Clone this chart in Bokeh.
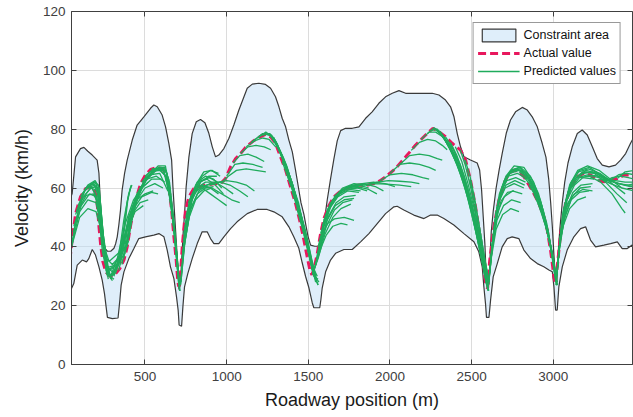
from bokeh.plotting import figure
from bokeh.models import Range1d, LinearAxis, FixedTicker, Legend, LegendItem, CustomJSTickFormatter
from bokeh.embed import file_html
from bokeh.resources import INLINE

# Constraint area: upper and lower velocity envelopes along the road (m, km/h)
upper_pos = [40, 54, 75, 105, 126, 150, 177, 207, 218, 224, 232, 244, 255, 270, 290, 310, 320, 330,
             340, 350, 360, 375, 391, 422, 452, 493, 534, 554, 575, 605, 626, 646, 663, 671, 681, 691,
             701, 708, 716, 724, 734, 742, 752, 769, 789, 814, 840, 867, 891, 912, 932, 952, 983, 1014,
             1044, 1075, 1106, 1126, 1157, 1197, 1238, 1269, 1299, 1320, 1340, 1361, 1381, 1402, 1422,
             1440, 1455, 1473, 1487, 1499, 1514, 1540, 1565, 1585, 1600, 1616, 1636, 1657, 1677, 1698,
             1728, 1769, 1810, 1851, 1891, 1932, 1973, 2014, 2055, 2096, 2136, 2198, 2259, 2300, 2340,
             2371, 2392, 2412, 2432, 2453, 2493, 2534, 2549, 2561, 2571, 2581, 2587, 2596, 2606, 2612,
             2620, 2632, 2650, 2668, 2687, 2712, 2738, 2769, 2810, 2841, 2871, 2902, 2932, 2955, 2972,
             2984, 2994, 3003, 3010, 3016, 3023, 3030, 3040, 3055, 3070, 3090, 3116, 3147, 3177, 3208,
             3239, 3269, 3300, 3341, 3381, 3412, 3443, 3473, 3495]
upper_vel = [56, 58.1, 70.6, 73.4, 73.8, 72.5, 71.2, 69.5, 65, 58.1, 50.2, 43.4, 39.5, 38.5, 38.5, 39.5,
             41, 43.4, 47.5, 52.5, 59.3, 65, 69.5, 76.3, 81.4, 84.2, 87.1, 88.2, 87.6, 84.8, 80.8, 75.2,
             69.5, 60.4, 51.3, 42.3, 33.2, 25.5, 27, 35, 45, 51, 60.4, 70.6, 78.5, 82.5, 83.3, 82.2, 78.6,
             74, 70.6, 71.2, 73.4, 76.9, 81.4, 86.5, 91, 93.9, 95.3, 95.6, 95.2, 93.9, 91, 87.6, 83.7,
             80.8, 76.3, 72.3, 66, 60, 55, 51, 46.8, 43.4, 40.6, 40.2, 40.2, 44.5, 49.5, 56, 63, 70, 76,
             79.5, 80.3, 80.3, 80.8, 83.7, 85.9, 88.8, 91, 92.2, 93.1, 92.2, 92.2, 92.2, 92.2, 91.6,
             89.9, 87.6, 84.2, 78.5, 74, 70.6, 69.5, 68.5, 66.1, 59.3, 50.2, 41.1, 33.2, 27, 27.5, 35.5,
             45, 52, 60, 66, 71.7, 78.6, 83.1, 85.9, 87.4, 86.5, 84.2, 80.8, 75.2, 70.5, 63, 55, 47, 38,
             32, 29.5, 31, 38, 46, 55, 62, 68.5, 74, 78.5, 79.7, 78, 74, 70, 67.8, 67.2, 67.8, 69.5,
             71.7, 75.2, 77.5]

lower_pos = [40, 50, 64, 85, 116, 142, 156, 177, 197, 218, 238, 252, 262, 270, 300, 335, 346, 354, 371,
             401, 432, 462, 503, 554, 585, 616, 636, 656, 677, 693, 703, 709, 724, 732, 742, 762, 789,
             820, 850, 881, 901, 922, 952, 983, 1024, 1064, 1126, 1187, 1248, 1289, 1340, 1381, 1411,
             1442, 1463, 1483, 1504, 1524, 1534, 1570, 1577, 1585, 1606, 1636, 1667, 1718, 1769, 1820,
             1871, 1922, 1973, 2024, 2044, 2085, 2146, 2208, 2249, 2289, 2330, 2391, 2453, 2514, 2544,
             2565, 2575, 2585, 2591, 2606, 2616, 2632, 2657, 2687, 2718, 2748, 2789, 2820, 2861, 2902,
             2942, 2973, 2994, 3004, 3014, 3024, 3034, 3055, 3085, 3126, 3167, 3198, 3228, 3259, 3310,
             3351, 3392, 3422, 3453, 3483, 3495]
lower_vel = [25.5, 25.8, 27.5, 33.8, 35.5, 34.9, 36, 39.1, 37.2, 33.2, 28.7, 24.1, 19.6, 16, 15.6, 15.8,
             21.9, 27, 31.5, 36, 39.4, 42.8, 43.4, 44, 44.5, 43.4, 38.9, 33.2, 29.2, 23, 18.5, 13.4, 13,
             19.6, 26.4, 30.9, 36, 41.1, 45.1, 45.1, 42.8, 41.1, 41.1, 43.4, 46.2, 48.5, 51.3, 52.7, 52.7,
             51.9, 50.2, 46.8, 43.4, 39.5, 34.5, 30, 26, 21, 19.3, 19.3, 22, 26, 31.5, 35.5, 37.8, 39.1,
             39.1, 41.7, 44.5, 47.9, 51.3, 53.6, 53.8, 52.5, 50.8, 49.6, 50.8, 50.8, 49.6, 47.4, 44.5,
             41.7, 38.3, 33.2, 26.4, 20.7, 16, 16, 21.9, 29.8, 34.3, 40, 42.8, 43.4, 42.8, 38.9, 36, 34.3,
             33.2, 32.1, 31.5, 26.4, 18.5, 18.5, 26.4, 33.2, 38.9, 43.4, 46.2, 46.8, 42.3, 40, 40.6, 41.1,
             41.7, 39.4, 39.4, 40.6, 40.6]

# Measured speed profile
actual_pos = [40, 54, 75, 105, 136, 167, 187, 200, 210, 218, 228, 242, 260, 285, 315, 345, 371, 391, 411,
              432, 452, 473, 503, 534, 575, 605, 626, 646, 663, 677, 691, 700, 706, 714, 728, 748, 769,
              799, 830, 871, 932, 963, 993, 1024, 1055, 1085, 1116, 1157, 1197, 1238, 1269, 1299, 1330,
              1361, 1391, 1422, 1452, 1473, 1493, 1510, 1522, 1535, 1555, 1575, 1595, 1626, 1657, 1700,
              1760, 1810, 1851, 1900, 1940, 1973, 2034, 2096, 2157, 2218, 2263, 2300, 2340, 2381, 2432,
              2463, 2493, 2524, 2555, 2575, 2588, 2598, 2610, 2636, 2667, 2698, 2728, 2759, 2790, 2820,
              2851, 2881, 2912, 2943, 2963, 2983, 2994, 3004, 3014, 3024, 3045, 3075, 3106, 3147, 3187,
              3228, 3269, 3310, 3351, 3392, 3432, 3495]
actual_vel = [35.5, 42.3, 51.3, 57, 59.8, 60.4, 59.8, 57.5, 53, 47, 41, 35, 31.5, 30, 30.5, 32.5, 35.5,
              40, 47, 53, 57.5, 61.5, 64.5, 66.3, 67, 66.6, 65, 60.4, 52.5, 43.4, 35.5, 29, 26.5, 28, 40,
              52.5, 57, 59.8, 60.4, 61, 61.5, 61.5, 63.2, 67.2, 70, 71.7, 73.8, 75.7, 77.2, 78.2, 77.4,
              75.2, 70.6, 66.1, 60.4, 54.7, 47.9, 42.3, 36.6, 32, 30.5, 32.5, 37.7, 44.5, 49.5, 54, 57,
              59, 60.5, 61, 60.8, 61.5, 62.5, 63.8, 66.6, 70.6, 74.6, 78, 80.3, 79.1, 77.4, 75.2, 72.9,
              69.5, 62.7, 53.6, 42.3, 33.2, 26.5, 26, 35, 46.8, 55.9, 61.5, 65, 66.1, 65.5, 63.8, 61,
              58.1, 54.7, 50.2, 45.7, 38.9, 34.3, 29.8, 27.5, 33.2, 44.5, 54.7, 60.4, 63.8, 65, 64.4,
              62.7, 62.1, 62.7, 63.2, 64.4, 64.4]

# Predicted trajectories, one list of (position, velocity) points per prediction
pred_stretch_1 = [
    [(50, 40), (100, 50), (150, 53), (200, 52), (235, 45), (260, 36), (285, 30)],
    [(50, 40), (100, 52), (150, 56), (200, 55), (232, 47), (258, 36), (290, 29)],
    [(54, 42), (95, 53), (140, 57.5), (185, 58), (220, 54), (245, 40), (275, 29)],
    [(60, 45), (110, 54), (160, 58), (205, 57), (235, 46), (262, 33), (300, 28.5)],
    [(65, 47), (115, 56), (165, 60), (205, 60.5), (230, 52), (255, 36), (290, 30)],
    [(75, 51), (120, 57), (170, 60), (210, 59), (235, 47), (265, 31), (310, 29)],
    [(80, 52), (130, 59), (180, 61.5), (212, 60), (238, 46), (262, 32), (295, 29)],
    [(90, 54), (140, 60), (190, 62), (215, 61), (238, 48), (270, 30), (320, 31)],
    [(105, 57), (150, 61), (195, 62.5), (220, 60), (242, 45), (275, 33), (330, 34)],
    [(115, 58), (160, 61), (200, 61.5), (225, 56), (248, 42), (270, 33), (310, 31)],
    [(130, 59.5), (175, 61.5), (205, 60), (228, 52), (250, 40), (280, 35), (340, 38)],
    [(150, 60), (190, 61), (215, 57), (240, 44), (265, 36), (300, 34), (350, 37)],
    [(170, 60.4), (205, 57), (230, 45), (255, 35), (285, 32), (330, 34), (380, 38)],
    [(190, 59), (215, 52), (240, 38), (265, 32), (300, 33), (350, 37), (400, 42)],
]
pred_stretch_2 = [
    [(260, 31), (290, 30), (330, 36), (380, 48), (430, 56), (480, 60), (520, 62)],
    [(280, 30), (320, 32), (360, 40), (400, 50), (450, 56), (500, 58), (550, 59)],
    [(290, 30), (330, 34), (370, 43), (420, 51), (470, 55), (520, 56)],
    [(300, 30), (340, 34), (380, 44), (430, 53), (480, 57), (540, 58.5), (580, 58)],
    [(300, 30), (345, 36), (390, 46), (440, 52), (490, 54)],
    [(320, 31), (350, 36), (390, 47), (440, 55), (500, 60), (560, 61.5), (610, 60)],
    [(340, 32), (370, 40), (400, 50), (450, 58), (510, 63), (570, 64), (620, 62)],
    [(360, 34), (390, 45), (420, 53), (470, 60), (530, 64.5), (590, 65), (640, 59)],
    [(370, 36), (400, 46), (430, 54), (480, 60), (540, 63), (600, 63)],
    [(380, 38), (410, 48), (440, 55), (490, 62), (550, 66), (610, 66.5), (650, 58), (680, 45), (700, 32)],
    [(390, 40), (420, 50), (460, 58), (510, 63), (570, 66), (630, 66), (660, 55), (695, 35), (710, 26)],
    [(400, 43), (430, 52), (470, 59), (520, 64), (580, 67.5), (625, 67.5), (655, 58), (685, 42), (705, 28)],
    [(420, 49), (450, 56), (500, 62), (560, 66), (620, 67), (650, 62), (680, 47), (705, 30)],
    [(450, 57), (500, 63), (560, 66.5), (620, 67), (645, 63), (670, 52), (700, 35), (712, 25)],
    [(480, 62), (530, 65.5), (590, 66), (630, 64), (660, 55), (690, 40), (712, 27)],
    [(500, 64), (550, 66.5), (600, 67), (635, 65), (662, 55), (690, 40), (710, 27)],
    [(330, 33), (360, 42), (390, 55), (410, 60)],
    [(350, 34), (370, 44), (395, 56), (415, 61)],
    [(310, 30), (340, 37), (370, 49), (400, 58), (420, 61)],
    [(540, 66.5), (590, 66.5), (625, 64), (650, 57), (675, 47), (700, 32), (715, 25)],
    [(580, 67), (615, 66), (640, 61), (665, 52), (690, 40), (708, 28)],
]
pred_stretch_3 = [
    [(716, 27), (740, 40), (770, 50), (810, 56), (860, 59), (910, 60)],
    [(718, 27), (742, 41), (775, 52), (820, 58), (870, 60), (920, 60.5)],
    [(720, 28), (745, 42), (780, 53), (830, 59), (880, 61), (930, 61.5)],
    [(725, 33), (750, 46), (790, 56), (840, 62), (890, 64), (940, 64)],
    [(728, 36), (755, 49), (795, 58), (845, 62.5), (895, 63.5), (945, 62)],
    [(730, 38), (760, 50), (800, 59), (850, 64), (900, 66), (950, 65)],
    [(740, 45), (770, 54), (810, 61), (860, 65.5), (910, 66), (960, 64)],
    [(745, 47), (775, 56), (820, 62), (870, 64), (920, 63), (970, 60)],
    [(750, 50), (780, 57), (830, 62), (880, 63), (930, 61), (980, 58)],
    [(765, 55), (800, 59), (850, 60), (900, 58), (950, 56), (1000, 54)],
    [(780, 57), (820, 60), (870, 62), (930, 62), (990, 60), (1040, 58)],
    [(800, 59), (850, 61), (910, 60), (970, 58), (1030, 56), (1080, 55)],
    [(735, 42), (760, 52), (800, 58), (850, 60.5), (900, 60), (950, 58)],
    [(850, 60.4), (900, 61.5), (960, 62), (1020, 61), (1080, 59), (1130, 57)],
    [(900, 61), (950, 62), (1000, 62.5), (1060, 62), (1120, 61), (1170, 59)],
    [(963, 61.5), (1010, 64), (1060, 66), (1120, 66.5), (1180, 66), (1240, 65.5)],
    [(1000, 64), (1050, 68), (1100, 68.5), (1160, 68), (1220, 67)],
    [(1040, 68.5), (1080, 71), (1130, 71.5), (1180, 70.5), (1230, 69)],
    [(1085, 71.7), (1130, 74), (1180, 74.5), (1230, 74), (1270, 73)],
    [(1120, 74), (1170, 76), (1220, 77), (1260, 76.5), (1300, 74)],
    [(1150, 75.5), (1210, 78), (1265, 78.5), (1310, 75), (1365, 67), (1425, 56), (1485, 43), (1525, 32)],
    [(1160, 75.8), (1220, 78.5), (1270, 78), (1320, 73), (1380, 64), (1440, 52), (1500, 38), (1530, 31)],
    [(1190, 77), (1240, 79), (1290, 77), (1340, 71), (1400, 62), (1460, 49), (1510, 36), (1545, 30)],
    [(1220, 78), (1260, 78.5), (1300, 76), (1350, 70), (1410, 60), (1470, 47), (1520, 34), (1555, 30)],
    [(1235, 78.2), (1275, 78), (1315, 74), (1365, 68), (1425, 57), (1480, 44), (1525, 32), (1552, 29)],
    [(1250, 78.3), (1290, 77), (1330, 72), (1380, 65), (1440, 55), (1490, 42), (1535, 30), (1560, 29)],
    [(1265, 77.8), (1305, 75), (1350, 69), (1400, 61), (1455, 50), (1505, 38), (1545, 29)],
    [(1280, 76.8), (1320, 73), (1370, 67), (1420, 58), (1470, 47), (1515, 35), (1545, 28)],
    [(1310, 74), (1350, 69), (1400, 62), (1450, 52), (1500, 41), (1540, 30), (1560, 27)],
    [(1340, 69), (1380, 63), (1430, 56), (1480, 46), (1520, 36), (1550, 29)],
    [(1370, 64.5), (1410, 58), (1460, 50), (1505, 39), (1540, 30), (1565, 28)],
    [(1400, 59), (1440, 52), (1480, 45), (1520, 35), (1550, 28)],
    [(1430, 53), (1470, 45), (1505, 37), (1535, 30), (1560, 27)],
]
pred_stretch_4 = [
    [(1524, 30.5), (1560, 36), (1600, 44), (1650, 50), (1700, 53), (1760, 54.5)],
    [(1530, 31), (1570, 39), (1610, 47), (1660, 52.5), (1710, 55), (1770, 56)],
    [(1535, 32), (1575, 41), (1615, 49), (1665, 54), (1720, 56), (1780, 56.5)],
    [(1540, 33), (1580, 42), (1620, 50), (1670, 55), (1720, 57), (1790, 57.5)],
    [(1550, 36), (1590, 46), (1630, 53), (1680, 57), (1740, 59), (1810, 58.5)],
    [(1555, 37), (1595, 47), (1640, 54), (1690, 58), (1750, 59.5), (1820, 59)],
    [(1560, 40), (1600, 49), (1640, 55), (1700, 59), (1760, 60.5), (1830, 60)],
    [(1575, 44.5), (1610, 51), (1650, 56), (1710, 60), (1780, 61.5), (1850, 61)],
    [(1585, 47), (1620, 53), (1670, 57), (1730, 59.5), (1800, 60), (1860, 59)],
    [(1595, 49), (1630, 54), (1680, 58), (1740, 60.5), (1810, 61), (1870, 60)],
    [(1626, 54), (1670, 57.5), (1730, 60), (1800, 60.5), (1870, 59.5), (1920, 58)],
    [(1560, 38), (1590, 45), (1620, 48), (1660, 49.5), (1720, 50), (1780, 49)],
    [(1545, 34), (1580, 40), (1610, 44), (1650, 47), (1700, 48), (1740, 47.5)],
    [(1657, 57), (1710, 59.5), (1770, 61), (1840, 61.5), (1910, 60.5), (1960, 59)],
    [(1700, 59), (1760, 60.5), (1830, 61.5), (1900, 62), (1970, 61.5), (2030, 60.5)],
    [(1760, 60.5), (1830, 61), (1900, 61.5), (1980, 61.3), (2060, 61), (2130, 60.5)],
    [(1851, 60.8), (1920, 62), (1990, 62.5), (2060, 62.3), (2130, 62), (2180, 61.5)],
    [(1940, 62.5), (2000, 64.5), (2070, 65), (2140, 64.5), (2200, 63.5), (2240, 63)],
    [(2000, 65), (2060, 68), (2120, 68.5), (2180, 68), (2240, 67), (2280, 66)],
    [(2060, 68), (2120, 71), (2180, 71.5), (2240, 71), (2290, 70), (2320, 69.5)],
    [(2130, 72.8), (2180, 75.5), (2230, 76.5), (2280, 76), (2320, 74.5), (2350, 73)],
    [(2190, 76.5), (2240, 79), (2280, 79), (2320, 77.5), (2360, 75), (2390, 73)],
    [(2230, 78.5), (2270, 80.5), (2310, 79), (2360, 75), (2410, 70), (2460, 62), (2510, 50), (2560, 37), (2590, 28)],
    [(2250, 79.5), (2290, 80), (2330, 77), (2380, 72), (2430, 65), (2480, 56), (2530, 44), (2575, 32), (2598, 26)],
    [(2270, 80.2), (2310, 78.5), (2350, 75), (2400, 70), (2450, 62), (2500, 52), (2545, 40), (2585, 29), (2600, 25)],
    [(2280, 79.8), (2320, 78), (2360, 74), (2410, 68), (2460, 60), (2510, 49), (2555, 38), (2592, 27)],
    [(2290, 79.5), (2330, 77), (2370, 73), (2420, 67), (2470, 59), (2520, 48), (2560, 37), (2595, 27)],
    [(2310, 78.5), (2350, 75.5), (2400, 70.5), (2450, 63), (2495, 54), (2540, 43), (2580, 32), (2605, 25)],
    [(2320, 78), (2360, 74.5), (2410, 69), (2460, 62), (2505, 53), (2550, 42), (2590, 30)],
    [(2340, 77.4), (2380, 74), (2430, 68), (2475, 60), (2520, 50), (2560, 39), (2600, 28)],
    [(2370, 75.5), (2410, 71), (2455, 64), (2500, 55), (2540, 45), (2580, 34), (2605, 27)],
    [(2400, 74), (2440, 69), (2480, 61), (2520, 52), (2560, 41), (2595, 30)],
    [(2430, 73), (2460, 68), (2495, 60), (2530, 50), (2565, 39), (2600, 28)],
    [(2460, 69.5), (2490, 64), (2520, 56), (2550, 46), (2580, 36), (2605, 28)],
    [(2490, 63), (2520, 55), (2550, 46), (2580, 36), (2605, 29)],
]
pred_stretch_5 = [
    [(2600, 26), (2620, 36), (2650, 46), (2690, 51), (2740, 53), (2790, 52)],
    [(2603, 27), (2625, 39), (2655, 49), (2695, 54), (2745, 56), (2800, 55)],
    [(2606, 28), (2630, 42), (2660, 52), (2700, 57), (2750, 59), (2810, 58)],
    [(2610, 31), (2635, 45), (2665, 55), (2705, 60), (2760, 61.5), (2820, 60)],
    [(2612, 33), (2638, 46), (2670, 56), (2710, 61), (2765, 62.5), (2825, 61)],
    [(2615, 35), (2640, 48), (2675, 58), (2715, 62.5), (2770, 63.5), (2830, 62)],
    [(2620, 38), (2650, 52), (2685, 60), (2725, 64), (2780, 65), (2840, 63)],
    [(2620, 37), (2650, 49), (2680, 55.5), (2720, 58.5), (2760, 59)],
    [(2625, 40), (2655, 53), (2690, 61), (2735, 65), (2790, 66), (2850, 63.5), (2905, 57), (2955, 48), (2995, 37), (3016, 28)],
    [(2630, 42), (2660, 55), (2700, 62.5), (2745, 66), (2800, 67), (2860, 64), (2910, 58), (2960, 48), (3000, 35), (3015, 28)],
    [(2640, 48), (2670, 58), (2710, 64), (2760, 67.5), (2820, 67), (2880, 62), (2930, 54), (2975, 43), (3010, 30)],
    [(2667, 56), (2700, 62), (2740, 66), (2790, 67), (2850, 64), (2910, 57), (2960, 47), (3000, 36), (3020, 27)],
    [(2698, 61.5), (2730, 65), (2780, 66.5), (2830, 65), (2890, 60), (2940, 52), (2985, 40), (3018, 28)],
    [(2728, 65), (2770, 66.5), (2820, 65.5), (2870, 62), (2920, 56), (2965, 46), (3005, 33), (3022, 27)],
    [(2759, 66), (2800, 66), (2850, 63), (2900, 57), (2945, 50), (2990, 38), (3020, 28)],
    [(2790, 65.5), (2830, 64), (2880, 60), (2925, 54), (2970, 45), (3010, 32), (3025, 27)],
    [(2820, 63.8), (2860, 61), (2905, 56), (2950, 48), (2990, 39), (3020, 29)],
    [(2851, 61), (2890, 57.5), (2930, 51), (2970, 44), (3005, 34), (3025, 28)],
    [(2881, 58), (2920, 53), (2955, 47), (2990, 38), (3015, 30)],
    [(2912, 54.7), (2945, 49), (2975, 42), (3005, 33), (3025, 27)],
]
pred_stretch_6 = [
    [(3016, 27), (3035, 38), (3060, 47), (3100, 53), (3150, 56), (3200, 57)],
    [(3018, 28), (3040, 41), (3070, 50), (3110, 56), (3160, 58.5), (3220, 59)],
    [(3019, 29), (3042, 42), (3075, 51), (3115, 57), (3165, 60), (3230, 60.5)],
    [(3020, 30), (3045, 44), (3080, 53), (3120, 58.5), (3170, 61), (3240, 61.5)],
    [(3022, 31), (3050, 47), (3085, 56), (3130, 61), (3180, 63.5), (3250, 63)],
    [(3025, 33), (3055, 50), (3090, 58.5), (3140, 63.5), (3200, 66), (3270, 65), (3330, 62)],
    [(3030, 36), (3060, 52), (3100, 61), (3150, 66), (3210, 67.5), (3280, 66), (3350, 63), (3420, 60)],
    [(3035, 39), (3065, 53), (3105, 61.5), (3155, 65.5), (3215, 66.5), (3285, 65), (3360, 62)],
    [(3040, 41), (3070, 54), (3110, 62), (3160, 66), (3220, 67), (3290, 64.5), (3370, 61), (3440, 58)],
    [(3045, 44.5), (3075, 55), (3120, 62.5), (3180, 65.5), (3250, 65), (3320, 62), (3390, 58), (3450, 55)],
    [(3060, 50), (3090, 55), (3130, 58), (3180, 59.5), (3240, 59)],
    [(3075, 54.7), (3110, 60), (3160, 63.5), (3220, 64), (3290, 62), (3360, 58), (3420, 53), (3440, 51.5)],
    [(3106, 60.4), (3150, 63.5), (3210, 64.5), (3280, 63.5), (3350, 61.5), (3420, 60), (3495, 59)],
    [(3147, 63.8), (3200, 65.5), (3260, 65), (3330, 63), (3400, 61.5), (3470, 60.5), (3495, 60.5)],
    [(3187, 65), (3240, 65.5), (3300, 64), (3370, 62), (3440, 61), (3495, 61)],
    [(3228, 64.4), (3280, 64), (3340, 62.5), (3400, 61.5), (3460, 61), (3495, 61.5)],
    [(3269, 62.7), (3320, 63), (3380, 62.5), (3440, 62), (3495, 62)],
    [(3310, 62.1), (3360, 63.5), (3410, 64), (3460, 63.5), (3495, 63)],
    [(3351, 62.7), (3400, 64.5), (3450, 65), (3495, 64.5)],
    [(3392, 63.2), (3440, 65.5), (3495, 66)],
]

x_ticks = [500, 1000, 1500, 2000, 2500, 3000]
y_ticks = [0, 20, 40, 60, 80, 100, 120]

FONT = "Liberation Sans"
AXIS_COLOR = "#404040"
PRED_COLOR = "#1fab5c"

p = figure(width=633, height=417, x_range=Range1d(50, 3485), y_range=Range1d(0, 120),
           output_backend="svg", toolbar_location=None,
           min_border_left=71, min_border_right=1, min_border_top=11, min_border_bottom=53)
p.background_fill_color = "white"
p.border_fill_color = "white"
p.outline_line_color = AXIS_COLOR
p.outline_line_width = 1

for ax in (p.xaxis[0], p.yaxis[0]):
    ax.axis_line_color = AXIS_COLOR
    ax.major_tick_line_color = AXIS_COLOR
    ax.major_tick_in = 5
    ax.major_tick_out = 0
    ax.minor_tick_line_color = None
    ax.major_label_text_font = FONT
    ax.major_label_text_font_size = "13.5px"
    ax.major_label_text_color = "#404040"
    ax.axis_label_text_font = FONT
    ax.axis_label_text_font_size = "18px"
    ax.axis_label_text_font_style = "normal"
    ax.axis_label_text_color = "#1a1a1a"

p.xaxis.ticker = FixedTicker(ticks=x_ticks)
p.yaxis.ticker = FixedTicker(ticks=y_ticks)
p.xaxis.axis_label = "Roadway position (m)"
p.yaxis.axis_label = "Velocity (km/h)"
p.xaxis.major_label_standoff = 7
p.yaxis.major_label_standoff = 6
p.xaxis.axis_label_standoff = 6
p.yaxis.axis_label_standoff = 8

# Box ticks on the top and right edges (no labels there)
blank = CustomJSTickFormatter(code="return ''")
top_axis = LinearAxis(ticker=FixedTicker(ticks=x_ticks), formatter=blank,
                      major_label_text_font_size="1px", major_label_standoff=0,
                      axis_line_color=None, major_tick_in=5, major_tick_out=0,
                      major_tick_line_color=AXIS_COLOR, minor_tick_line_color=None)
right_axis = LinearAxis(ticker=FixedTicker(ticks=y_ticks), formatter=blank,
                        major_label_text_font_size="1px", major_label_standoff=0,
                        axis_line_color=None, major_tick_in=5, major_tick_out=0,
                        major_tick_line_color=AXIS_COLOR, minor_tick_line_color=None)
p.add_layout(top_axis, "above")
p.add_layout(right_axis, "right")

p.xgrid.ticker = FixedTicker(ticks=x_ticks)
p.ygrid.ticker = FixedTicker(ticks=y_ticks)
p.grid.grid_line_color = "#dcdcdc"
p.grid.grid_line_width = 1

# Constraint area polygon: upper envelope forward, lower envelope back
area_x = upper_pos + lower_pos[::-1]
area_y = upper_vel + lower_vel[::-1]
area = p.patch(area_x, area_y, fill_color="#bcdcf4", fill_alpha=0.48,
               line_color="#3a3a3a", line_width=1.2)

actual = p.line(actual_pos, actual_vel, line_color="#e8175d", line_width=3, line_dash="8 4")

# Each prediction drawn as its own line
pred_lines = (pred_stretch_1 + pred_stretch_2 + pred_stretch_3 +
              pred_stretch_4 + pred_stretch_5 + pred_stretch_6)
pred_renderers = []
for line in pred_lines:
    r = p.line([pt[0] for pt in line], [pt[1] for pt in line],
               line_color=PRED_COLOR, line_width=1.3)
    pred_renderers.append(r)

legend = Legend(items=[LegendItem(label="Constraint area", renderers=[area]),
                       LegendItem(label="Actual value", renderers=[actual]),
                       LegendItem(label="Predicted values", renderers=[pred_renderers[0]])],
                location="top_right")
legend.label_text_font = FONT
legend.label_text_font_size = "12.5px"
legend.label_text_color = "#111111"
legend.glyph_width = 42
legend.glyph_height = 16
legend.label_height = 16
legend.label_standoff = 4
legend.spacing = 2
legend.padding = 4
legend.margin = 11
legend.border_line_color = "#333333"
legend.border_line_width = 1
legend.background_fill_color = "white"
legend.background_fill_alpha = 1
p.add_layout(legend)

open("out.html", "w").write(file_html(p, INLINE))
